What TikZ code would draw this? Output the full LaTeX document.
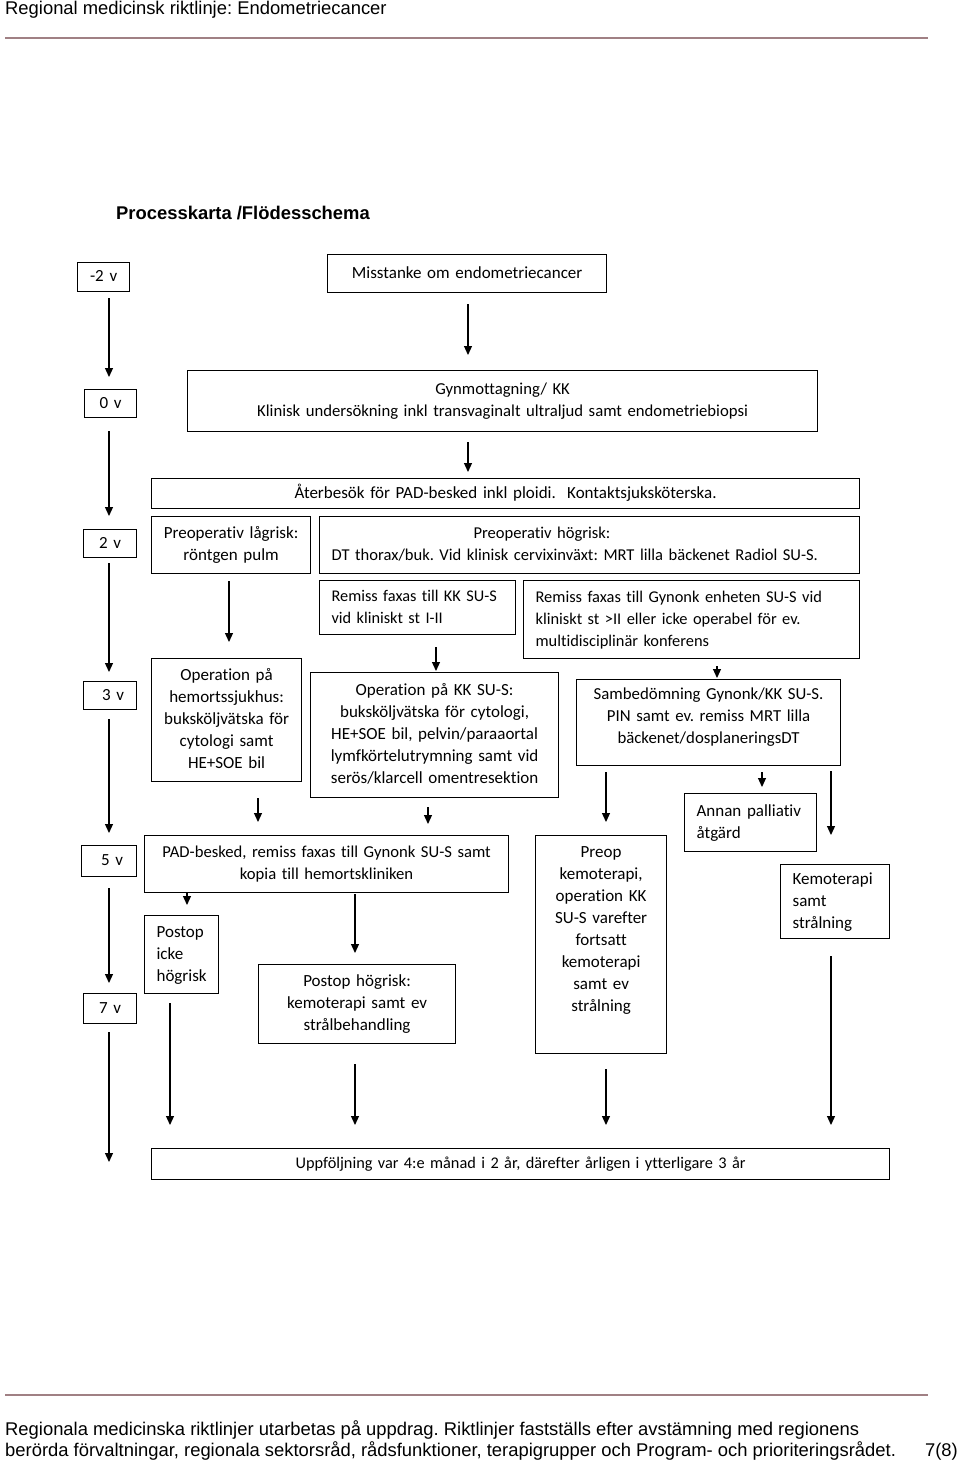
\documentclass[tikz,border=0pt]{standalone}
\usepackage{fontspec}
\setmainfont{Carlito}[Ligatures=NoCommon]
\newfontfamily\arialf{Liberation Sans}
\usetikzlibrary{arrows.meta}
\definecolor{rulecol}{RGB}{160,128,132}
\frenchspacing
\newcommand{\boxfontsz}[1]{\fontsize{#1}{22}\selectfont\exhyphenpenalty=10000\hyphenpenalty=10000}
\begin{document}
\begin{tikzpicture}[x=1pt,y=-1pt,
  box/.style={draw, line width=1.2pt, inner ysep=0pt, font=\boxfontsz{17},
    anchor=north west, execute at begin node=\strut, execute at end node=\strut},
  cbox/.style={box, align=center, inner xsep=3pt},
  lbox/.style={box, align=left, inner xsep=12pt},
  fsz/.style={font=\boxfontsz{#1}},
  arr/.style={-{Triangle[width=8pt,length=9pt]}, line width=1.2pt},
  hdr/.style={font=\arialf\fontsize{18.4}{21}\selectfont, inner sep=0pt},
  hrule/.style={draw=rulecol, line width=1.5pt},
]
\fill[white] (0,0) rectangle (960,1462);
\useasboundingbox (0,0) rectangle (960,1462);

% header and footer
\node[hdr, anchor=base west] (head) at (5,14) {Regional medicinsk riktlinje: Endometriecancer};
\coordinate (hl1) at (5,38); \coordinate (hl2) at (928,38);
\draw[hrule] (hl1) -- (hl2);
\node[hdr, font=\arialf\bfseries\fontsize{18.4}{21}\selectfont, anchor=base west] (title) at (116,219.5) {Processkarta /Flödesschema};
\coordinate (fl1) at (5,1395); \coordinate (fl2) at (928,1395);
\draw[hrule] (fl1) -- (fl2);
\node[hdr, anchor=base west] (foot1) at (5,1435) {Regionala medicinska riktlinjer utarbetas på uppdrag. Riktlinjer fastställs efter avstämning med regionens};
\node[hdr, anchor=base west] (foot2) at (5,1456) {berörda förvaltningar, regionala sektorsråd, rådsfunktioner, terapigrupper och Program- och prioriteringsrådet.};
\node[hdr, anchor=base east] (page) at (958,1456) {7(8)};

% week boxes
\node[cbox, minimum width=52pt, minimum height=29pt, text width=46pt] (m2v) at (77,262) {-2 v};
\node[cbox, minimum width=52pt, minimum height=28pt, text width=46pt] (z0v) at (84,389) {0 v};
\node[cbox, minimum width=53pt, minimum height=28pt, text width=47pt] (w2) at (83,529) {2 v};
\node[cbox, minimum width=53pt, minimum height=28pt, text width=47pt] (w3) at (83,681) {\hspace*{6pt}3 v};
\node[cbox, minimum width=55pt, minimum height=31pt, text width=49pt] (w5) at (81,845) {\hspace*{6pt}5 v};
\node[cbox, minimum width=53pt, minimum height=30pt, text width=47pt] (w7) at (83,993) {7 v};

% process boxes
\node[cbox, minimum width=279pt, minimum height=38pt, text width=273pt] (miss) at (327,254) {Misstanke om endometriecancer};
\node[cbox, fsz=16.7, minimum width=630pt, minimum height=61pt, text width=624pt] (gyn) at (187,370) {Gynmottagning/ KK\\Klinisk undersökning inkl transvaginalt ultraljud samt endometriebiopsi};
\node[cbox, minimum width=708pt, minimum height=30pt, text width=702pt] (ater) at (151,478) {Återbesök för PAD-besked inkl ploidi.\ \ Kontaktsjuksköterska.};
\node[cbox, minimum width=159pt, minimum height=57pt, text width=153pt] (lag) at (151,516) {Preoperativ lågrisk:\\röntgen pulm};
\node[lbox, fsz=16.55, minimum width=540pt, minimum height=57pt, text width=516pt] (hog) at (319,516) {\hspace*{142pt}Preoperativ högrisk:\\DT thorax/buk. Vid klinisk cervixinväxt: MRT lilla bäckenet Radiol SU-S.};
\node[lbox, fsz=16.3, minimum width=196pt, minimum height=54pt, text width=172pt] (remkk) at (319,580) {\mbox{Remiss faxas till KK SU-S}\\vid kliniskt st I-II};
\node[lbox, fsz=16.4, minimum width=336pt, minimum height=78pt, text width=312pt] (remgy) at (523,580) {Remiss faxas till Gynonk enheten SU-S vid\\kliniskt st >II eller icke operabel för ev.\\multidisciplinär konferens};
\node[cbox, minimum width=150pt, minimum height=123pt, text width=144pt] (ophem) at (151,658) {Operation på\\hemortssjukhus:\\buksköljvätska för\\cytologi samt\\HE+SOE bil};
\node[cbox, minimum width=248pt, minimum height=125pt, text width=242pt] (opkk) at (310,672) {Operation på KK SU-S:\\buksköljvätska för cytologi,\\HE+SOE bil, pelvin/paraaortal\\lymfkörtelutrymning samt vid\\serös/klarcell omentresektion};
\node[cbox, fsz=16.8, minimum width=264pt, minimum height=86pt, text width=258pt] (samb) at (576,679) {Sambedömning Gynonk/KK SU-S.\\PIN samt ev. remiss MRT lilla\\bäckenet/dosplaneringsDT\\[-11pt]\mbox{}};
\node[lbox, minimum width=132pt, minimum height=58pt, text width=108pt] (annan) at (684,793) {Annan palliativ\\åtgärd};
\node[lbox, minimum width=109pt, minimum height=74pt, text width=85pt] (kemo) at (780,864) {Kemoterapi\\samt\\strålning};
\node[cbox, minimum width=131pt, minimum height=218pt, text width=125pt] (preop) at (535,835) {Preop\\kemoterapi,\\operation KK\\SU-S varefter\\fortsatt\\kemoterapi\\samt ev\\strålning\\[8pt]\mbox{}};
\node[cbox, fsz=16.65, minimum width=364pt, minimum height=57pt, text width=358pt] (pad) at (144,835) {PAD-besked, remiss faxas till Gynonk SU-S samt\\kopia till hemortskliniken};
\node[lbox, minimum width=74pt, minimum height=78pt, text width=50pt] (icke) at (144,915) {Postop\\icke\\högrisk};
\node[cbox, minimum width=197pt, minimum height=79pt, text width=191pt] (posth) at (258,964) {Postop högrisk:\\kemoterapi samt ev\\strålbehandling};
\node[cbox, fsz=16.3, minimum width=738pt, minimum height=31pt, text width=732pt] (upp) at (151,1148) {Uppföljning var 4:e månad i 2 år, därefter årligen i ytterligare 3 år};

% x positions of connectors
\coordinate (tl) at (109,0);
\coordinate (tlend) at (109,1162);
\coordinate (xA) at (468,0);
\coordinate (xB) at (229,0);
\coordinate (xC) at (436,0);
\coordinate (xD) at (717,0);
\coordinate (xE) at (258,0);
\coordinate (xF) at (428,0);
\coordinate (xG) at (606,0);
\coordinate (xH) at (762,0);
\coordinate (xI) at (831,0);
\coordinate (xJ) at (187,0);
\coordinate (xK) at (355,0);
\coordinate (xL) at (170,0);

% timeline
\draw[arr, shorten <=6pt, shorten >=12pt] (m2v.south -| tl) -- (z0v.north -| tl);
\draw[arr, shorten <=13pt, shorten >=13pt] (z0v.south -| tl) -- (w2.north -| tl);
\draw[arr, shorten <=5pt, shorten >=9pt] (w2.south -| tl) -- (w3.north -| tl);
\draw[arr, shorten <=9pt, shorten >=12pt] (w3.south -| tl) -- (w5.north -| tl);
\draw[arr, shorten <=11pt, shorten >=10pt] (w5.south -| tl) -- (w7.north -| tl);
\draw[arr, shorten <=8pt] (w7.south -| tl) -- (tlend);

% process connectors
\draw[arr, shorten <=11pt, shorten >=15pt] (miss.south -| xA) -- (gyn.north -| xA);
\draw[arr, shorten <=10pt, shorten >=6pt] (gyn.south -| xA) -- (ater.north -| xA);
\draw[arr, shorten <=7pt, shorten >=16pt] (lag.south -| xB) -- (ophem.north -| xB);
\draw[arr, shorten <=12pt, shorten >=1pt] (remkk.south -| xC) -- (opkk.north -| xC);
\draw[arr, shorten <=7pt, shorten >=1pt] (remgy.south -| xD) -- (samb.north -| xD);
\draw[arr, shorten <=16pt, shorten >=13pt] (ophem.south -| xE) -- (pad.north -| xE);
\draw[arr, shorten <=9pt, shorten >=11pt] (opkk.south -| xF) -- (pad.north -| xF);
\draw[arr, shorten <=6pt, shorten >=13pt] (samb.south -| xG) -- (preop.north -| xG);
\draw[arr, shorten <=6pt, shorten >=6pt] (samb.south -| xH) -- (annan.north -| xH);
\draw[arr, shorten <=5pt, shorten >=29pt] (samb.south -| xI) -- (kemo.north -| xI);
\draw[arr, shorten >=10pt] (pad.south -| xJ) -- (icke.north -| xJ);
\draw[arr, shorten <=1pt, shorten >=11pt] (pad.south -| xK) -- (posth.north -| xK);
\draw[arr, shorten <=9pt, shorten >=23pt] (icke.south -| xL) -- (upp.north -| xL);
\draw[arr, shorten <=20pt, shorten >=23pt] (posth.south -| xK) -- (upp.north -| xK);
\draw[arr, shorten <=15pt, shorten >=23pt] (preop.south -| xG) -- (upp.north -| xG);
\draw[arr, shorten <=17pt, shorten >=23pt] (kemo.south -| xI) -- (upp.north -| xI);
\end{tikzpicture}
\end{document}
